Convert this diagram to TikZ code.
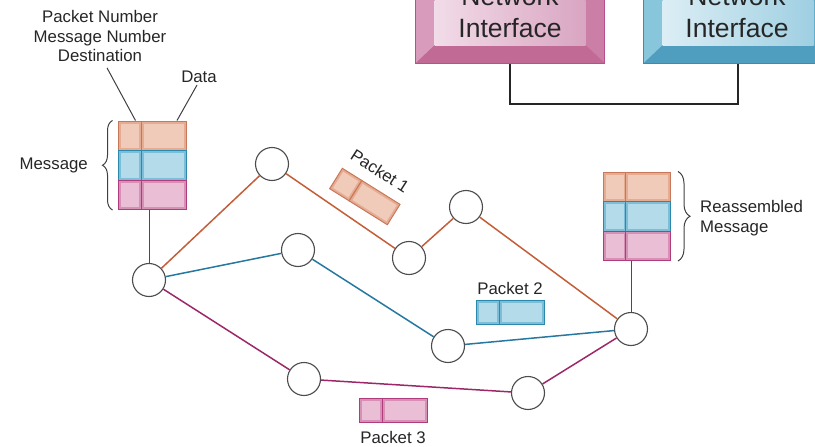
\documentclass[tikz,border=0pt]{standalone}
\usepackage{fontspec}
\setmainfont{Liberation Sans}
\usetikzlibrary{decorations.pathreplacing}

\definecolor{edge-or}{HTML}{C8785A}
\definecolor{mid-or}{HTML}{E6AC92}
\definecolor{face-or}{HTML}{F1CBB9}
\definecolor{edge-bl}{HTML}{2C88AC}
\definecolor{mid-bl}{HTML}{7CBED8}
\definecolor{face-bl}{HTML}{B4DBEA}
\definecolor{edge-pk}{HTML}{B03C7E}
\definecolor{mid-pk}{HTML}{D690B6}
\definecolor{face-pk}{HTML}{EABFD6}

\definecolor{link-or}{HTML}{C45E38}
\definecolor{link-bl}{HTML}{2678A0}
\definecolor{link-pk}{HTML}{9C2868}

\definecolor{nicedge-pk}{HTML}{B8508A}
\definecolor{nicrim-pk}{HTML}{CB7FA6}
\definecolor{nicbot-pk}{HTML}{C26A96}
\definecolor{niclft-pk}{HTML}{D99BBB}
\definecolor{nicfa-pk}{HTML}{F2DCE8}
\definecolor{nicfb-pk}{HTML}{D9A5C2}
\definecolor{nicedge-bl}{HTML}{3A8CB2}
\definecolor{nicrim-bl}{HTML}{62AECB}
\definecolor{nicbot-bl}{HTML}{4F9EC0}
\definecolor{niclft-bl}{HTML}{88C6DC}
\definecolor{nicfa-bl}{HTML}{DCEEF5}
\definecolor{nicfb-bl}{HTML}{9FCFE2}

\tikzset{
  hub/.style={circle, draw=black!70, line width=1.1pt, fill=white,
    minimum size=33pt, inner sep=0pt},
  cell/.style={draw=edge-#1, fill=mid-#1, line width=1pt, inner sep=0pt,
    minimum height=29.5pt,
    path picture={\fill[face-#1]
      ([shift={(2.5pt,-2.5pt)}]path picture bounding box.north west) rectangle
      ([shift={(-2.5pt,2.5pt)}]path picture bounding box.south east);}},
  hdr/.style={cell=#1, minimum width=23pt},
  body/.style={cell=#1, minimum width=45pt},
  link/.style={draw=link-#1, line width=1.5pt},
  lbl/.style={font=\fontsize{16.8}{19.5}\selectfont, text=black!85,
    inner sep=0pt, align=center},
  leader/.style={draw=black!75, line width=1pt},
  brace/.style={draw=black!75, line width=1pt, decorate,
    decoration={brace, amplitude=#1}},
  nic/.style={draw=nicedge-#1, fill=nicrim-#1, line width=1pt, inner sep=0pt,
    minimum width=189pt, minimum height=124pt,
    path picture={
      \fill[nicbot-#1] (path picture bounding box.south west)
        -- (path picture bounding box.south east)
        -- ([shift={(-19pt,18pt)}]path picture bounding box.south east)
        -- ([shift={(19pt,18pt)}]path picture bounding box.south west) -- cycle;
      \fill[niclft-#1] (path picture bounding box.south west)
        -- ([shift={(19pt,18pt)}]path picture bounding box.south west)
        -- ([xshift=19pt]path picture bounding box.north west)
        -- (path picture bounding box.north west) -- cycle;
      \shade[left color=nicfa-#1, right color=nicfb-#1]
        ([shift={(19pt,18pt)}]path picture bounding box.south west) rectangle
        ([xshift=-19pt]path picture bounding box.north east);}},
  niclbl/.style={font=\fontsize{26.5}{32}\selectfont, text=black!85,
    inner sep=0pt, align=center}
}

\begin{document}
\begin{tikzpicture}[x=1pt, y=-1pt]
  \useasboundingbox (0,0) rectangle (815,447);

  % the two interfaces and their cable
  \node[nic=pk] (nic1) at (510,1) {};
  \node[nic=bl] (nic2) at (738,1) {};
  \node[niclbl] (nic1t) at (510,12) {Network\\Interface};
  \node[niclbl] (nic2t) at (737,12) {Network\\Interface};
  \draw[line width=2pt, black!85] (nic1.south) -- ++(0,40) -| (nic2.south);

  % message going in
  \foreach \r/\c in {1/or,2/bl,3/pk}{
    \node[hdr=\c] (lh\r) at (129.5,{106.25+29.5*\r}) {};
    \node[body=\c] (ld\r) at (163.5,{106.25+29.5*\r}) {};
  }
  \node[lbl] (hdrlbl) at (100,36) {Packet Number\\Message Number\\Destination};
  \node[lbl] (datalbl) at (199,77) {Data};
  \draw[leader] (hdrlbl.south) ++(7,6) -- ([xshift=6pt]lh1.north);
  \draw[leader] (datalbl.south) ++(-2,2) -- ([xshift=13.5pt]ld1.north);
  \draw[brace=10pt] ([xshift=-5pt]lh3.south west) -- ([xshift=-5pt]lh1.north west);
  \node[lbl, anchor=east] (msglbl) at (88,165) {Message};

  % message coming out
  \foreach \r/\c in {1/or,2/bl,3/pk}{
    \node[hdr=\c] (rh\r) at (614.5,{157.25+29.5*\r}) {};
    \node[body=\c] (rd\r) at (648,{157.25+29.5*\r}) {};
  }
  \draw[brace=12pt] ([xshift=7pt]rd1.north east) -- ([xshift=7pt]rd3.south east);
  \node[lbl, anchor=west, align=left] (rmsglbl) at (700,218) {Reassembled\\Message};

  % routers
  \node[hub] (a) at (149,280) {};
  \node[hub] (b) at (272,164) {};
  \node[hub] (c) at (298,250) {};
  \node[hub] (d) at (409,258) {};
  \node[hub] (e) at (466,207) {};
  \node[hub] (f) at (448,346) {};
  \node[hub] (g) at (631,329) {};
  \node[hub] (h) at (304,379) {};
  \node[hub] (i) at (528,393) {};

  \draw[leader, black!70] (a |- ld3.south) -- (a);
  \draw[leader, black!70] (g |- rd3.south) -- (g);

  \draw[link=or] (a) -- (b) -- (d) -- (e) -- (g);
  \draw[link=bl] (a) -- (c) -- (f) -- (g);
  \draw[link=pk] (a) -- (h) -- (i) -- (g);

  % packets on the way
  \begin{scope}[transform canvas={rotate around={-32:(364,196)}}]
    \node[hdr=or, minimum height=24pt] (p1h) at (342.5,196) {};
    \node[body=or, minimum height=24pt] (p1d) at (376.5,196) {};
  \end{scope}
  \node[lbl, rotate=-33] (p1lbl) at (380,171) {Packet 1};

  \node[hdr=bl, minimum height=24pt] (p2h) at (487.5,312) {};
  \node[body=bl, minimum height=24pt] (p2d) at (521.5,312) {};
  \node[lbl] (p2lbl) at (510,288) {Packet 2};

  \node[hdr=pk, minimum height=24pt] (p3h) at (371,410) {};
  \node[body=pk, minimum height=24pt] (p3d) at (405,410) {};
  \node[lbl] (p3lbl) at (393,437) {Packet 3};
\end{tikzpicture}
\end{document}
